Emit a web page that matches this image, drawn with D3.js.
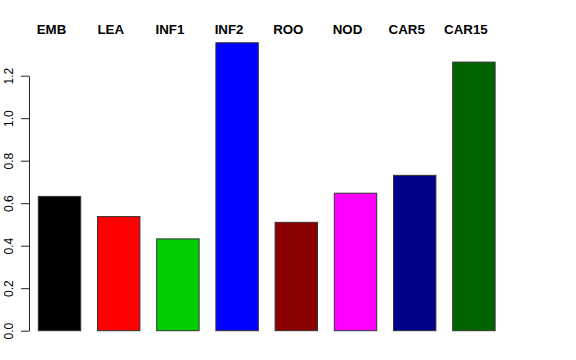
<!DOCTYPE html>
<html>
<head>
<meta charset="utf-8">
<script src="https://cdn.jsdelivr.net/npm/d3@7"></script>
<style>
  html, body { margin: 0; padding: 0; background: #fff; }
  svg { display: block; font-family: "Liberation Sans", Arial, Helvetica, sans-serif; }
</style>
</head>
<body>
<svg id="chart" width="576" height="360"></svg>
<script>
const categories = ["EMB", "LEA", "INF1", "INF2", "ROO", "NOD", "CAR5", "CAR15"];
const values = [0.632, 0.537, 0.432, 1.355, 0.510, 0.647, 0.731, 1.264];
const colors = ["#000000", "#FF0000", "#00CD00", "#0000FF", "#8B0000", "#FF00FF", "#00008B", "#006400"];
const yTicks = [0.0, 0.2, 0.4, 0.6, 0.8, 1.0, 1.2];

const svg = d3.select("#chart");

// y scale: 0 at 330.7px, ~212.5 px per unit
const y = d3.scaleLinear().domain([0, 1.2]).range([330.7, 75.7]);

// x band scale: bar width ~42.4, period ~59.2
const x = d3.scaleBand()
  .domain(categories)
  .range([38.3 - 8.4, 38.3 - 8.4 + 59.2 * 8])
  .paddingInner(16.8 / 59.2)
  .paddingOuter(8.4 / 59.2 / 1);

// bars
svg.append("g").selectAll("rect")
  .data(categories)
  .join("rect")
  .attr("x", d => x(d))
  .attr("y", (d, i) => y(values[i]))
  .attr("width", x.bandwidth())
  .attr("height", (d, i) => y(0) - y(values[i]))
  .attr("fill", (d, i) => colors[i])
  .attr("stroke", "#333")
  .attr("stroke-width", 1);

// y axis
const axis = d3.axisLeft(y)
  .tickValues(yTicks)
  .tickFormat(d3.format(".1f"))
  .tickSize(8)
  .tickSizeOuter(0)
  .tickPadding(0);

const ag = svg.append("g")
  .attr("transform", "translate(29,0)")
  .call(axis);
ag.select(".domain").attr("stroke", "#222");
ag.selectAll(".tick line").attr("stroke", "#222");
ag.selectAll(".tick text")
  .attr("fill", "#000")
  .attr("font-size", 12)
  .attr("text-anchor", "middle")
  .attr("x", 0)
  .attr("dy", 0)
  .attr("transform", "translate(-16,0) rotate(-90)");

// category labels on top
svg.append("g").selectAll("text")
  .data(categories)
  .join("text")
  .attr("x", d => x(d) + x.bandwidth() / 2 - 8)
  .attr("y", 34.3)
  .attr("text-anchor", "middle")
  .attr("font-size", 13.3)
  .attr("font-weight", "bold")
  .attr("fill", "#000")
  .text(d => d);
</script>
</body>
</html>
